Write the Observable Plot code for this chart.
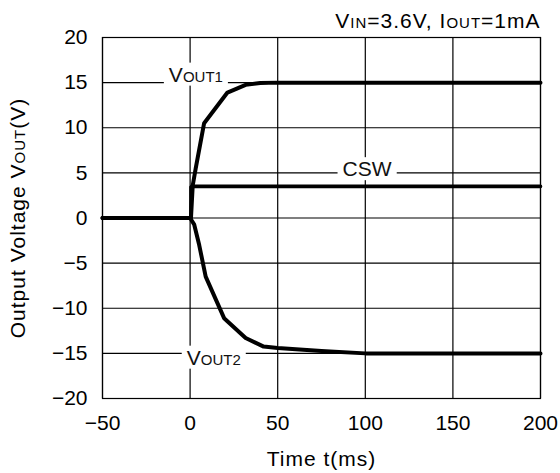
<!DOCTYPE html>
<html><head><meta charset="utf-8">
<script src="https://cdn.jsdelivr.net/npm/d3@7"></script>
<script src="https://cdn.jsdelivr.net/npm/@observablehq/plot@0.6"></script>
<style>body{margin:0;background:#fff} svg{display:block}</style>
</head><body><div id="chart"></div>
<script>
// ---- data ----
const xTicks = [-50, 0, 50, 100, 150, 200];
const yTicks = [-20, -15, -10, -5, 0, 5, 10, 15, 20];

const vout1T = [-50, 0, 0.5, 1.5, 3.2, 8, 21.3, 31.7, 40, 50, 200];
const vout1V = [0, 0, 0, 3.6, 5.5, 10.5, 13.9, 14.75, 14.95, 15, 15];

const cswT = [-50, 0.5, 0.5, 200];
const cswV = [0, 0, 3.5, 3.5];

const vout2T = [-50, 0, 2.3, 5.2, 8.9, 19.4, 31.7, 42, 50, 75, 100, 200];
const vout2V = [0, 0, -0.7, -3.0, -6.5, -11.1, -13.3, -14.25, -14.4, -14.75, -15, -15];

const seriesNames = ["VOUT1", "CSW", "VOUT2"];
const labelT = [3.3, 101, 13.5];
const labelV = [15, 5, -15];

const xTitle = "Time t(ms)";
const yTitle = "Output Voltage VOUT(V)";
const note = "VIN=3.6V, IOUT=1mA";

// rich text parts (small-cap subscripts)
const richParts = {
  "VOUT1": [["V", 21], ["OUT1", 15]],
  "VOUT2": [["V", 21], ["OUT2", 15]],
  "Output Voltage VOUT(V)": [["Output Voltage V", 21], ["OUT", 15], ["(V)", 21]],
  "VIN=3.6V, IOUT=1mA": [["V", 21], ["IN", 15], ["=3.6V, I", 21], ["OUT", 15], ["=1mA", 21]]
};

const toRows = (T, V) => T.map((t, i) => ({t, v: V[i]}));
const gridStyle = {stroke: "#000", strokeOpacity: 1, strokeWidth: 1.2};
const font = "'Liberation Sans', Arial, Helvetica, sans-serif";

const chart = Plot.plot({
  width: 560, height: 473,
  marginLeft: 102, marginRight: 20, marginTop: 37, marginBottom: 75,
  style: {fontFamily: font, fontSize: "21px", color: "#000", background: "#fff", overflow: "visible"},
  x: {domain: [-50, 200]},
  y: {domain: [-20, 20]},
  marks: [
    Plot.gridX(xTicks, gridStyle),
    Plot.gridY(yTicks, gridStyle),
    Plot.frame({stroke: "#000", strokeWidth: 1.2}),
    Plot.axisX(xTicks, {tickSize: 0, tickPadding: 17, label: null, fontSize: 21, fill: "#000"}),
    Plot.axisY(yTicks, {tickSize: 0, tickPadding: 15, label: null, fontSize: 21, fill: "#000"}),
    Plot.text([xTitle], {frameAnchor: "bottom", textAnchor: "middle", lineAnchor: "bottom", dy: 67, fontSize: 21, fill: "#000"}),
    Plot.text([yTitle], {frameAnchor: "left", textAnchor: "middle", rotate: -90, lineAnchor: "bottom", dx: -78, fontSize: 21, fill: "#000"}),
    Plot.text([note], {frameAnchor: "top-right", textAnchor: "end", lineAnchor: "bottom", dy: -9.7, fontSize: 21, fill: "#000"}),
    Plot.text([0], {x: labelT[0], y: labelV[0], text: () => seriesNames[0], textAnchor: "middle", lineAnchor: "bottom", dy: -1, fontSize: 21, fill: "#111"}),
    Plot.text([0], {x: labelT[1], y: labelV[1], text: () => seriesNames[1], textAnchor: "middle", lineAnchor: "bottom", dy: 3.3, fontSize: 21, fill: "#111"}),
    Plot.text([0], {x: labelT[2], y: labelV[2], text: () => seriesNames[2], textAnchor: "middle", lineAnchor: "bottom", dy: 11.3, fontSize: 21, fill: "#111"}),
    Plot.line(toRows(cswT, cswV), {x: "t", y: "v", stroke: "#000", strokeWidth: 3.6, strokeLinejoin: "miter"}),
    Plot.line(toRows(vout1T, vout1V), {x: "t", y: "v", stroke: "#000", strokeWidth: 4, strokeLinejoin: "round"}),
    Plot.line(toRows(vout2T, vout2V), {x: "t", y: "v", stroke: "#000", strokeWidth: 4, strokeLinejoin: "round"})
  ]
});
document.getElementById("chart").appendChild(chart);

// rich text + white gaps behind series labels
const NS = "http://www.w3.org/2000/svg";
chart.querySelectorAll("text").forEach(el => {
  const s = el.textContent;
  if (richParts[s]) {
    el.textContent = "";
    richParts[s].forEach(([str, size]) => {
      const ts = document.createElementNS(NS, "tspan");
      ts.setAttribute("font-size", size);
      ts.textContent = str;
      el.appendChild(ts);
    });
  }
  if (s === xTitle || s === yTitle || s === note) el.setAttribute("letter-spacing", "1");
  if (seriesNames.includes(s)) {
    const b = el.getBBox();
    const r = document.createElementNS(NS, "rect");
    r.setAttribute("x", b.x - 5);
    r.setAttribute("y", b.y);
    r.setAttribute("width", b.width + 10);
    r.setAttribute("height", b.height);
    r.setAttribute("fill", "#fff");
    if (el.getAttribute("transform")) r.setAttribute("transform", el.getAttribute("transform"));
    el.parentNode.insertBefore(r, el);
  }
});
</script>
</body></html>
